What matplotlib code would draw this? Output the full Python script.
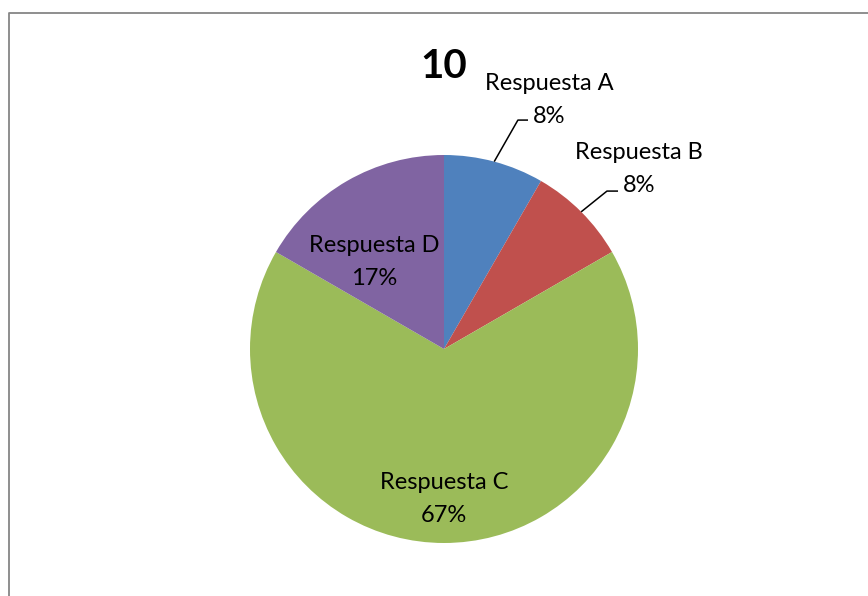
import numpy as np
import matplotlib.pyplot as plt
from matplotlib.lines import Line2D

# chart data
categories = ["Respuesta A", "Respuesta B", "Respuesta C", "Respuesta D"]
counts = [1, 1, 8, 2]
colors = ["#4F81BD", "#C0504D", "#9BBB59", "#8064A2"]
title = "10"

plt.rcParams["font.family"] = ["Lato", "DejaVu Sans"]

W, H = 868, 596
fig = plt.figure(figsize=(W / 100, H / 100), dpi=100)

# pie centre / radius in pixels
cx, cy, r = 444, 349, 194
ax = fig.add_axes([(cx - r) / W, (H - cy - r) / H, 2 * r / W, 2 * r / H])

wedges, _ = ax.pie(counts, colors=colors, startangle=90, counterclock=False,
                   radius=1, wedgeprops=dict(linewidth=0))
ax.set_xlim(-1, 1)
ax.set_ylim(-1, 1)
ax.set_aspect("auto")
ax.axis("off")

total = sum(counts)
pcts = [f"{round(100 * c / total)}%" for c in counts]

fs = 17
ls = 1.68

# outside labels with leader lines (A, B)
outside = {
    0: dict(text=(0.541, 1.284), elbow=(0.381, 1.180), end=(0.433, 1.180)),
    1: dict(text=(1.005, 0.928), elbow=(0.840, 0.814), end=(0.897, 0.814)),
}
inside = {
    2: (0.0, -0.773),
    3: (-0.361, 0.448),
}

for i, w in enumerate(wedges):
    mid = np.deg2rad((w.theta1 + w.theta2) / 2)
    label = f"{categories[i]}\n{pcts[i]}"
    if i in outside:
        o = outside[i]
        ex, ey = np.cos(mid), np.sin(mid)
        ax.plot([ex, o["elbow"][0], o["end"][0]], [ey, o["elbow"][1], o["end"][1]],
                color="black", lw=1.1, clip_on=False, solid_capstyle="butt")
        ax.text(*o["text"], label, ha="center", va="center", fontsize=fs,
                linespacing=ls, multialignment="center", clip_on=False)
    else:
        ax.text(*inside[i], label, ha="center", va="center", fontsize=fs,
                linespacing=ls, multialignment="center")

ax.text(0, 1.397, title, ha="center", va="baseline", fontsize=29,
        fontweight="bold", clip_on=False)

# chart area border (only top/left visible)
x0 = 9 / W
y0 = 1 - 13 / H
fig.add_artist(Line2D([x0, x0, 1], [0, y0, y0], color="#868686", lw=1.3))

fig.savefig("out.png", dpi=100, facecolor="white")
